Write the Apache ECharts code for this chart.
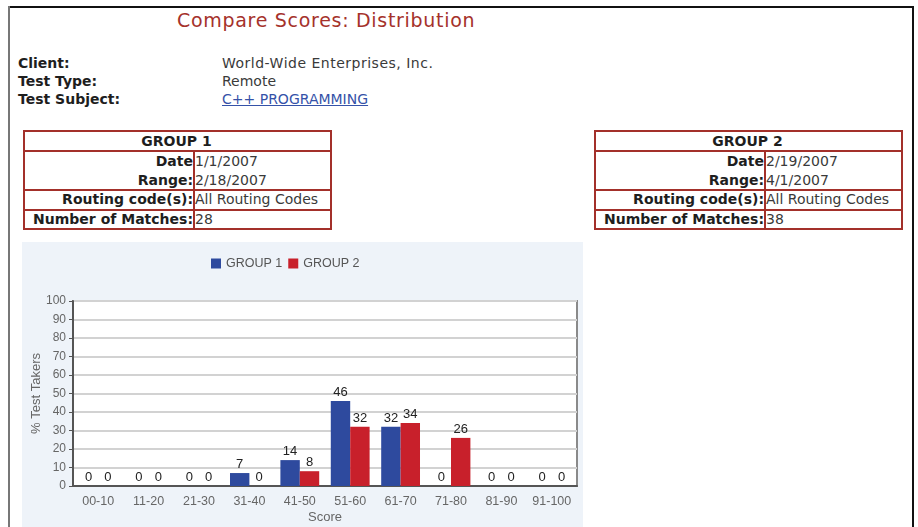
<!DOCTYPE html>
<html>
<head>
<meta charset="utf-8">
<script src="https://cdn.jsdelivr.net/npm/echarts@6/dist/echarts.min.js"></script>
<style>
  html, body { margin:0; padding:0; background:#fff; width:918px; height:527px; overflow:hidden; }
  .abs { position:absolute; white-space:nowrap; }
  .lbl { font-family:"DejaVu Sans", Verdana, sans-serif; font-weight:bold; font-size:14px; color:#1e1e1e; line-height:18px; }
  .val { font-family:"DejaVu Sans", Verdana, sans-serif; font-size:14px; color:#3a3a3a; line-height:18px; }
  .ln { position:absolute; background:#a3302a; }
  #chart { position:absolute; left:0; top:0; width:918px; height:527px; }
</style>
</head>
<body>
<!-- page frame -->
<div class="abs" style="left:10px;top:6px;width:904px;height:2px;background:#111;"></div>
<div class="abs" style="left:8px;top:6px;width:2px;height:521px;background:#777;"></div>
<div class="abs" style="left:912px;top:6px;width:2px;height:521px;background:#111;"></div>

<div class="abs" style="left:177px;top:9px;font-family:'DejaVu Sans',Verdana,sans-serif;font-size:19px;letter-spacing:0.7px;line-height:22px;color:#a5322b;">Compare Scores: Distribution</div>

<div id="info"></div>
<div id="tables"></div>
<div id="chart"></div>

<script>
// ---- data ----
var categories = ['00-10','11-20','21-30','31-40','41-50','51-60','61-70','71-80','81-90','91-100'];
var group1 = [0, 0, 0, 7, 14, 46, 32, 0, 0, 0];
var group2 = [0, 0, 0, 0, 8, 32, 34, 26, 0, 0];
var seriesNames = ['GROUP 1', 'GROUP 2'];
var infoLabels = ['Client:', 'Test Type:', 'Test Subject:'];
var infoValues = ['World-Wide Enterprises, Inc.', 'Remote', 'C++ PROGRAMMING'];
var tableLabels = ['Date', 'Range:', 'Routing code(s):', 'Number of Matches:'];
var table1Values = ['1/1/2007', '2/18/2007', 'All Routing Codes', '28'];
var table2Values = ['2/19/2007', '4/1/2007', 'All Routing Codes', '38'];

// ---- header info ----
var info = document.getElementById('info');
var html = '';
var rowTops = [54, 72, 90];
for (var i = 0; i < infoLabels.length; i++) {
  html += '<div class="abs lbl" style="left:18px;top:' + rowTops[i] + 'px;">' + infoLabels[i] + '</div>';
  var v = infoValues[i];
  var st = (i === 2) ? 'color:#3552a8;text-decoration:underline;' : (i === 0 ? 'letter-spacing:0.5px;' : '');
  html += '<div class="abs val" style="left:222px;top:' + rowTops[i] + 'px;' + st + '">' + v.replace(/</g,'&lt;') + '</div>';
}
info.innerHTML = html;

// ---- tables ----
function buildTable(x0, x1, xd, title, values) {
  var h = '';
  var ys = [130, 150, 189, 209, 228];
  for (var k = 0; k < ys.length; k++) {
    h += '<div class="ln" style="left:' + x0 + 'px;top:' + ys[k] + 'px;width:' + (x1 - x0 + 2) + 'px;height:2px;"></div>';
  }
  h += '<div class="ln" style="left:' + x0 + 'px;top:130px;width:2px;height:100px;"></div>';
  h += '<div class="ln" style="left:' + x1 + 'px;top:130px;width:2px;height:100px;"></div>';
  h += '<div class="ln" style="left:' + xd + 'px;top:150px;width:2px;height:80px;"></div>';
  h += '<div class="abs lbl" style="left:' + x0 + 'px;width:' + (x1 - x0) + 'px;text-align:center;top:132px;">' + title + '</div>';
  var tops = [152, 171, 190, 210];
  for (var r = 0; r < tableLabels.length; r++) {
    h += '<div class="abs lbl" style="left:' + (x0 + 2) + 'px;width:' + (xd - x0 - 2) + 'px;text-align:right;top:' + tops[r] + 'px;">' + tableLabels[r] + '</div>';
    h += '<div class="abs val" style="left:' + (xd + 2) + 'px;top:' + tops[r] + 'px;">' + values[r] + '</div>';
  }
  return h;
}
document.getElementById('tables').innerHTML =
  buildTable(23, 330, 193, seriesNames[0], table1Values) +
  buildTable(594, 901, 764, seriesNames[1], table2Values);

// ---- chart ----
var chart = echarts.init(document.getElementById('chart'), null, {renderer: 'canvas'});
var FONT = '"Liberation Sans", Arial, sans-serif';
var labelCfg = { show: true, position: 'top', distance: 2, color: '#222', fontSize: 13, fontFamily: FONT };
chart.setOption({
  animation: false,
  graphic: { elements: [
    { type: 'rect', z: -100, shape: { x: 22, y: 242, width: 561, height: 285 }, style: { fill: '#eef3f9' } }
  ]},
  legend: {
    left: 211, top: 257, padding: 0, itemWidth: 10, itemHeight: 10, itemGap: 6, icon: 'rect',
    textStyle: { color: '#555', fontSize: 12.5, fontFamily: FONT },
    data: seriesNames
  },
  grid: { left: 73, top: 301, width: 504, height: 185, show: true, backgroundColor: '#fff', borderColor: '#8a8a8a', borderWidth: 2 },
  xAxis: {
    type: 'category', data: categories,
    axisLine: { lineStyle: { color: '#555', width: 2 } },
    axisTick: { alignWithLabel: true, length: 3, lineStyle: { color: '#444', width: 2 } },
    axisLabel: { interval: 0, color: '#666', fontSize: 12.5, margin: 9, fontFamily: FONT },
    name: 'Score', nameLocation: 'middle', nameGap: 25, nameMoveOverlap: false,
    nameTextStyle: { color: '#666', fontSize: 13, fontFamily: FONT }
  },
  yAxis: {
    type: 'value', min: 0, max: 100, interval: 10,
    axisLine: { show: true, lineStyle: { color: '#555', width: 2 } },
    axisTick: { show: true, length: 4, lineStyle: { color: '#555' } },
    axisLabel: { color: '#666', fontSize: 12, margin: 7, fontFamily: FONT },
    splitLine: { lineStyle: { color: '#d2d2d2', width: 2 } },
    name: '% Test Takers', nameLocation: 'middle', nameGap: 30, nameRotate: 90, nameMoveOverlap: false,
    nameTextStyle: { color: '#666', fontSize: 13, fontFamily: FONT }
  },
  series: [
    { name: seriesNames[0], type: 'bar', data: group1, barGap: '0%', barCategoryGap: '23%',
      itemStyle: { color: '#2e4a9e' }, label: labelCfg },
    { name: seriesNames[1], type: 'bar', data: group2, barGap: '0%', barCategoryGap: '23%',
      itemStyle: { color: '#c8202b' }, label: labelCfg }
  ]
});
</script>
</body>
</html>
